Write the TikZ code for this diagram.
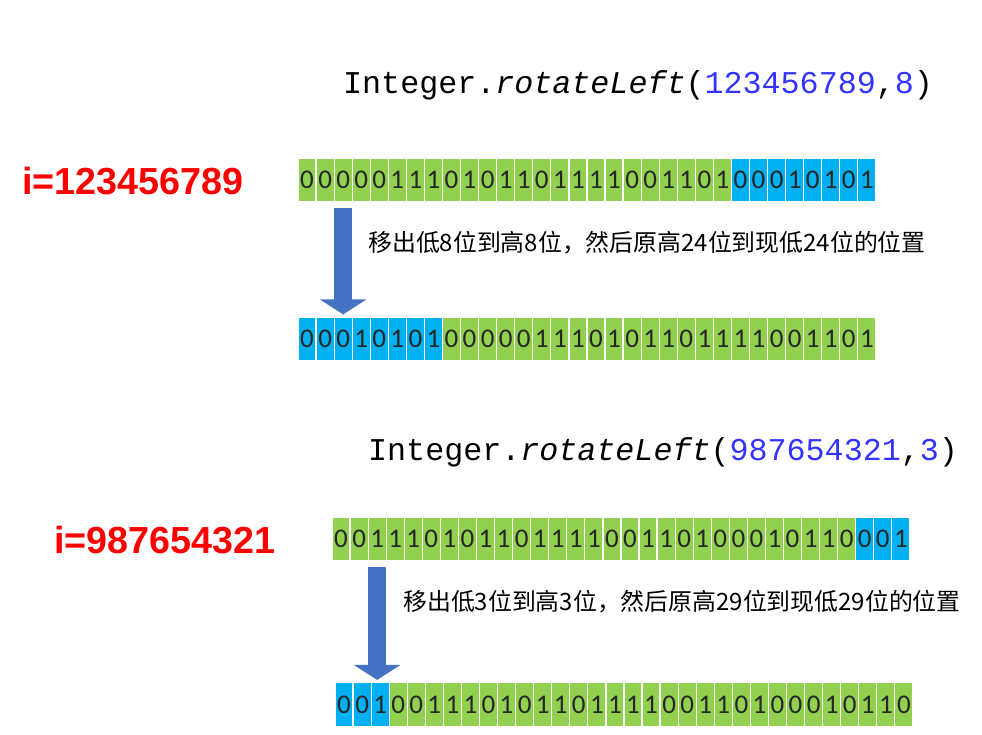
\documentclass[tikz,border=0pt]{standalone}
\usepackage{fontspec}
\setmainfont{Carlito}
\newfontfamily\monofont{Liberation Mono}
\newfontfamily\cjkfont{Noto Sans CJK SC}
\newfontfamily\labelfont{Liberation Sans}
\usetikzlibrary{arrows.meta,positioning}
\definecolor{bitgreen}{HTML}{92D050}
\definecolor{bitblue}{HTML}{00B0F0}
\definecolor{arrowblue}{HTML}{4472C4}
\definecolor{numblue}{HTML}{3333FF}
\definecolor{labred}{HTML}{FF0000}

\begin{document}
\begin{tikzpicture}[x=1pt, y=-1pt,
    cell/.style={draw=white, line width=1.2pt, fill=#1, minimum width=18.06pt,
                 minimum height=44pt, inner sep=0pt, text=black!85,
                 font=\fontsize{27}{27}\selectfont},
    call/.style={anchor=west, inner sep=0pt, font=\monofont\fontsize{31.7}{32}\selectfont},
    varlabel/.style={anchor=west, inner sep=0pt, text=labred,
                     font=\labelfont\bfseries\fontsize{37.7}{40}\selectfont},
    note/.style={anchor=west, inner sep=0pt, font=\cjkfont\fontsize{23.9}{26}\selectfont},
    shiftarrow/.style={line width=18pt, arrowblue,
                       -{Triangle[length=15pt, width=46pt]},
                       shorten <=5pt, shorten >=2pt},
]
  \useasboundingbox[fill=white] (0,0) rectangle (982,734);

  % first example
  \node[call] (call1) at (343,85)
    {Integer.\textit{rotateLeft}(\textcolor{numblue}{123456789},\textcolor{numblue}{8})};
  \node[varlabel] (var1) at (22,181) {i=123456789};

  \foreach \b [count=\i] in {0,0,0,0,0,1,1,1,0,1,0,1,1,0,1,1,1,1,0,0,1,1,0,1}
    \node[cell=bitgreen] (r1c\i) at (298+18.06*\i-9.03,180) {\b};
  \foreach \b [count=\i from 25] in {0,0,0,1,0,1,0,1}
    \node[cell=bitblue] (r1c\i) at (298+18.06*\i-9.03,180) {\b};

  \foreach \b [count=\i] in {0,0,0,1,0,1,0,1}
    \node[cell=bitblue] (r2c\i) at (298+18.06*\i-9.03,339) {\b};
  \foreach \b [count=\i from 9] in {0,0,0,0,0,1,1,1,0,1,0,1,1,0,1,1,1,1,0,0,1,1,0,1}
    \node[cell=bitgreen] (r2c\i) at (298+18.06*\i-9.03,339) {\b};

  \draw[shiftarrow] (r1c3.south) -- (r1c3.south |- r2c3.north);
  \node[note] (note1) at (368,243) {移出低8位到高8位，然后原高24位到现低24位的位置};

  % second example
  \node[call] (call2) at (368,452)
    {Integer.\textit{rotateLeft}(\textcolor{numblue}{987654321},\textcolor{numblue}{3})};
  \node[varlabel] (var2) at (54,540) {i=987654321};

  \foreach \b [count=\i] in {0,0,1,1,1,0,1,0,1,1,0,1,1,1,1,0,0,1,1,0,1,0,0,0,1,0,1,1,0}
    \node[cell=bitgreen] (r3c\i) at (332+18.06*\i-9.03,539) {\b};
  \foreach \b [count=\i from 30] in {0,0,1}
    \node[cell=bitblue] (r3c\i) at (332+18.06*\i-9.03,539) {\b};

  \foreach \b [count=\i] in {0,0,1}
    \node[cell=bitblue] (r4c\i) at (335+18.06*\i-9.03,704.5) {\b};
  \foreach \b [count=\i from 4] in {0,0,1,1,1,0,1,0,1,1,0,1,1,1,1,0,0,1,1,0,1,0,0,0,1,0,1,1,0}
    \node[cell=bitgreen] (r4c\i) at (335+18.06*\i-9.03,704.5) {\b};

  \draw[shiftarrow] (r3c3.south) -- (r3c3.south |- r4c3.north);
  \node[note] (note2) at (403,602) {移出低3位到高3位，然后原高29位到现低29位的位置};
\end{tikzpicture}
\end{document}
